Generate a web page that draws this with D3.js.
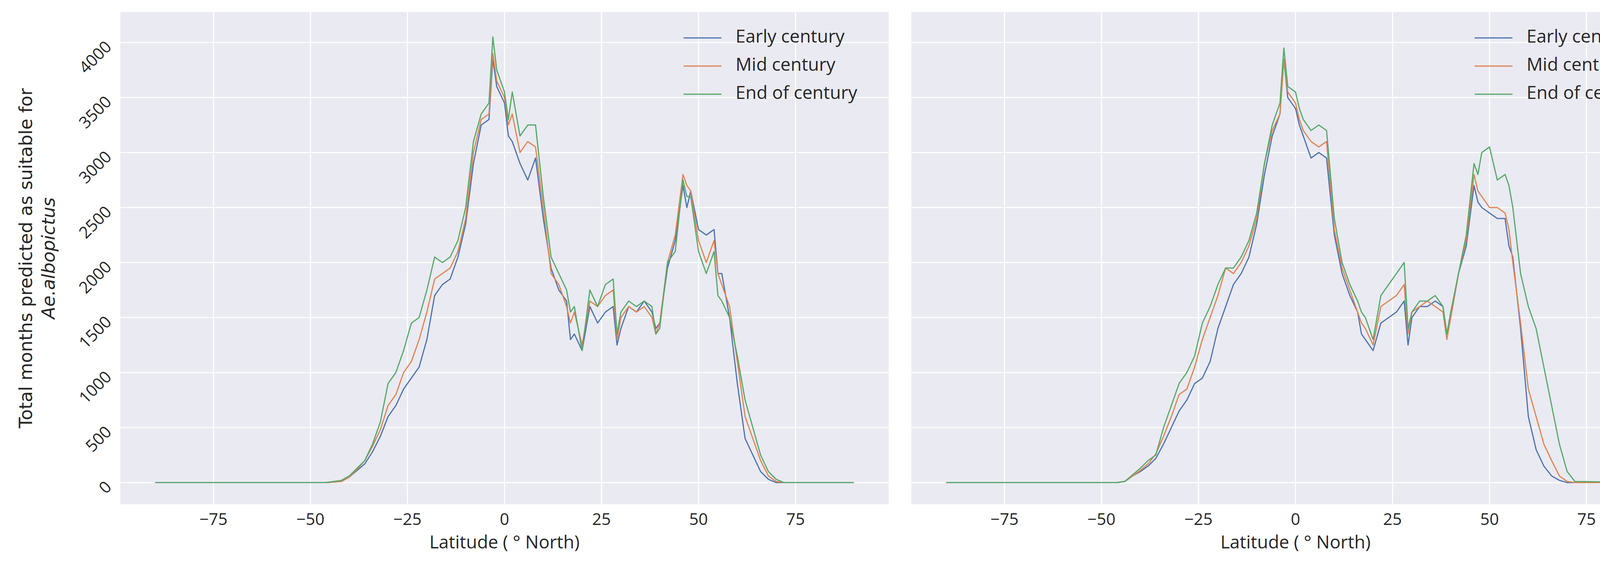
<!DOCTYPE html>
<html><head><meta charset="utf-8">
<script src="https://cdn.jsdelivr.net/npm/d3@7"></script>
<style>body{margin:0;background:#fff}svg{display:block}</style>
</head><body>
<svg id="c" width="4349" height="1448"></svg>
<script>
const lats=[-90,-46,-44,-42,-40,-38,-36,-34,-32,-30,-28,-26,-24,-22,-20,-18,-16,-14,-12,-10,-8,-6,-4,-3,-2,0,1,2,4,6,8,10,12,14,16,17,18,20,22,24,26,28,29,30,32,34,36,38,39,40,42,44,46,47,48,50,52,54,55,56,58,60,62,64,66,68,70,72,90];
const seriesNames=["Early century","Mid century","End of century"];
const leftEarly=[0,0,5,10,50,110,170,280,420,600,700,850,950,1050,1300,1700,1800,1850,2050,2350,2900,3250,3300,3850,3600,3450,3150,3100,2900,2750,2950,2400,1950,1750,1650,1300,1350,1200,1600,1450,1550,1600,1250,1400,1600,1550,1650,1550,1400,1450,1950,2200,2700,2500,2650,2300,2250,2300,1900,1900,1500,900,400,250,100,30,0,0,0];
const leftMid=[0,0,5,10,50,120,200,330,480,700,800,1000,1100,1300,1550,1850,1900,1950,2100,2400,3000,3300,3350,3900,3650,3500,3250,3350,3000,3100,3050,2500,1900,1800,1600,1450,1550,1250,1650,1600,1700,1750,1300,1500,1600,1550,1600,1500,1350,1450,2000,2250,2800,2700,2650,2200,2000,2200,1900,1800,1600,1100,600,400,200,60,10,0,0];
const leftEnd=[0,0,10,20,60,130,200,350,550,900,1000,1200,1450,1500,1750,2050,2000,2050,2200,2500,3100,3350,3450,4050,3750,3550,3300,3550,3150,3250,3250,2600,2050,1900,1750,1550,1600,1200,1750,1600,1800,1850,1350,1550,1650,1600,1650,1600,1350,1400,2000,2100,2750,2600,2600,2100,1900,2100,1700,1650,1500,1150,750,500,250,100,30,0,0];
const rightEarly=[0,0,10,60,100,150,220,350,500,650,750,900,950,1100,1400,1600,1800,1900,2050,2350,2800,3150,3350,3850,3500,3400,3250,3150,2950,3000,2950,2250,1900,1700,1550,1350,1300,1200,1450,1500,1550,1650,1250,1500,1600,1600,1650,1600,1350,1500,1900,2150,2700,2550,2500,2450,2400,2400,2150,2050,1400,600,300,150,60,20,0,0,0];
const rightMid=[0,0,10,60,110,170,260,420,600,800,850,1050,1300,1500,1700,1950,1900,2000,2150,2400,2900,3200,3350,3850,3550,3450,3300,3200,3100,3050,3100,2300,1950,1750,1550,1450,1400,1250,1600,1650,1700,1800,1350,1550,1600,1650,1600,1550,1300,1500,1900,2200,2800,2650,2600,2500,2500,2450,2300,2000,1450,850,600,350,200,60,10,0,0];
const rightEnd=[0,0,10,70,130,200,250,500,700,900,1000,1150,1450,1600,1800,1950,1950,2050,2200,2450,2900,3250,3450,3950,3600,3550,3400,3300,3200,3250,3200,2400,2000,1800,1650,1550,1500,1300,1700,1800,1900,2000,1400,1550,1650,1650,1700,1600,1350,1550,1900,2250,2900,2800,3000,3050,2750,2800,2700,2500,1900,1600,1400,1050,700,350,100,10,0];
const xTicks=[-75,-50,-25,0,25,50,75];
const yTicks=[0,500,1000,1500,2000,2500,3000,3500,4000];
const colors=["#4C72B0","#DD8452","#55A868"];

const svg=d3.select("#c");
const panels=[{x0:308,data:[leftEarly,leftMid,leftEnd],yl:true},{x0:2333,data:[rightEarly,rightMid,rightEnd],yl:false}];
const W=1967,pTop=31,pBot=1290;
const txt="#262626";
panels.forEach(p=>{
  const x=d3.scaleLinear().domain([-99,99]).range([p.x0,p.x0+W]);
  const y=d3.scaleLinear().domain([-197,4276]).range([pBot,pTop]);
  svg.append("rect").attr("x",p.x0).attr("y",pTop).attr("width",W).attr("height",pBot-pTop).attr("fill","#EAEAF2");
  const g=svg.append("g");
  xTicks.forEach(t=>g.append("line").attr("x1",x(t)).attr("x2",x(t)).attr("y1",pTop).attr("y2",pBot).attr("stroke","#fff").attr("stroke-width",2.8));
  yTicks.forEach(t=>g.append("line").attr("x1",p.x0).attr("x2",p.x0+W).attr("y1",y(t)).attr("y2",y(t)).attr("stroke","#fff").attr("stroke-width",2.8));
  xTicks.forEach(t=>g.append("text").attr("x",x(t)).attr("y",1343).attr("text-anchor","middle")
    .attr("font-family","Open Sans").attr("font-size",42).attr("fill",txt).text(t<0?"\u2212"+(-t):t));
  g.append("text").attr("x",p.x0+W/2).attr("y",1403).attr("text-anchor","middle").attr("font-family","Open Sans")
    .attr("font-size",46).attr("fill",txt).text("Latitude ( \u00B0  North)");
  if(p.yl){
    yTicks.forEach(t=>g.append("text").attr("transform",`translate(${p.x0-28},${y(t)+6}) rotate(-45)`)
      .attr("text-anchor","end").attr("dominant-baseline","middle").attr("font-family","Open Sans").attr("font-size",42).attr("fill",txt).text(t));
    g.append("text").attr("transform",`translate(82,${(pTop+pBot)/2}) rotate(-90)`).attr("text-anchor","middle")
      .attr("font-family","DejaVu Sans").attr("font-size",46).attr("fill",txt).text("Total months predicted as suitable for");
    g.append("text").attr("transform",`translate(140,${(pTop+pBot)/2}) rotate(-90)`).attr("text-anchor","middle")
      .attr("font-family","DejaVu Sans").attr("font-size",46).attr("font-style","italic").attr("fill",txt).text("Ae.albopictus");
  }
  const line=d3.line().x((d,i)=>x(lats[i])).y(d=>y(d));
  p.data.forEach((s,k)=>g.append("path").attr("d",line(s)).attr("fill","none").attr("stroke",colors[k]).attr("stroke-width",3).attr("stroke-linejoin","round"));
  seriesNames.forEach((n,k)=>{
    const ly=97+k*72, lx=p.x0+W-525;
    g.append("line").attr("x1",lx).attr("x2",lx+97).attr("y1",ly).attr("y2",ly).attr("stroke",colors[k]).attr("stroke-width",3);
    g.append("text").attr("x",lx+133).attr("y",ly).attr("dominant-baseline","middle").attr("font-family","Open Sans").attr("font-size",46).attr("fill",txt).text(n);
  });
});
</script>
</body></html>
